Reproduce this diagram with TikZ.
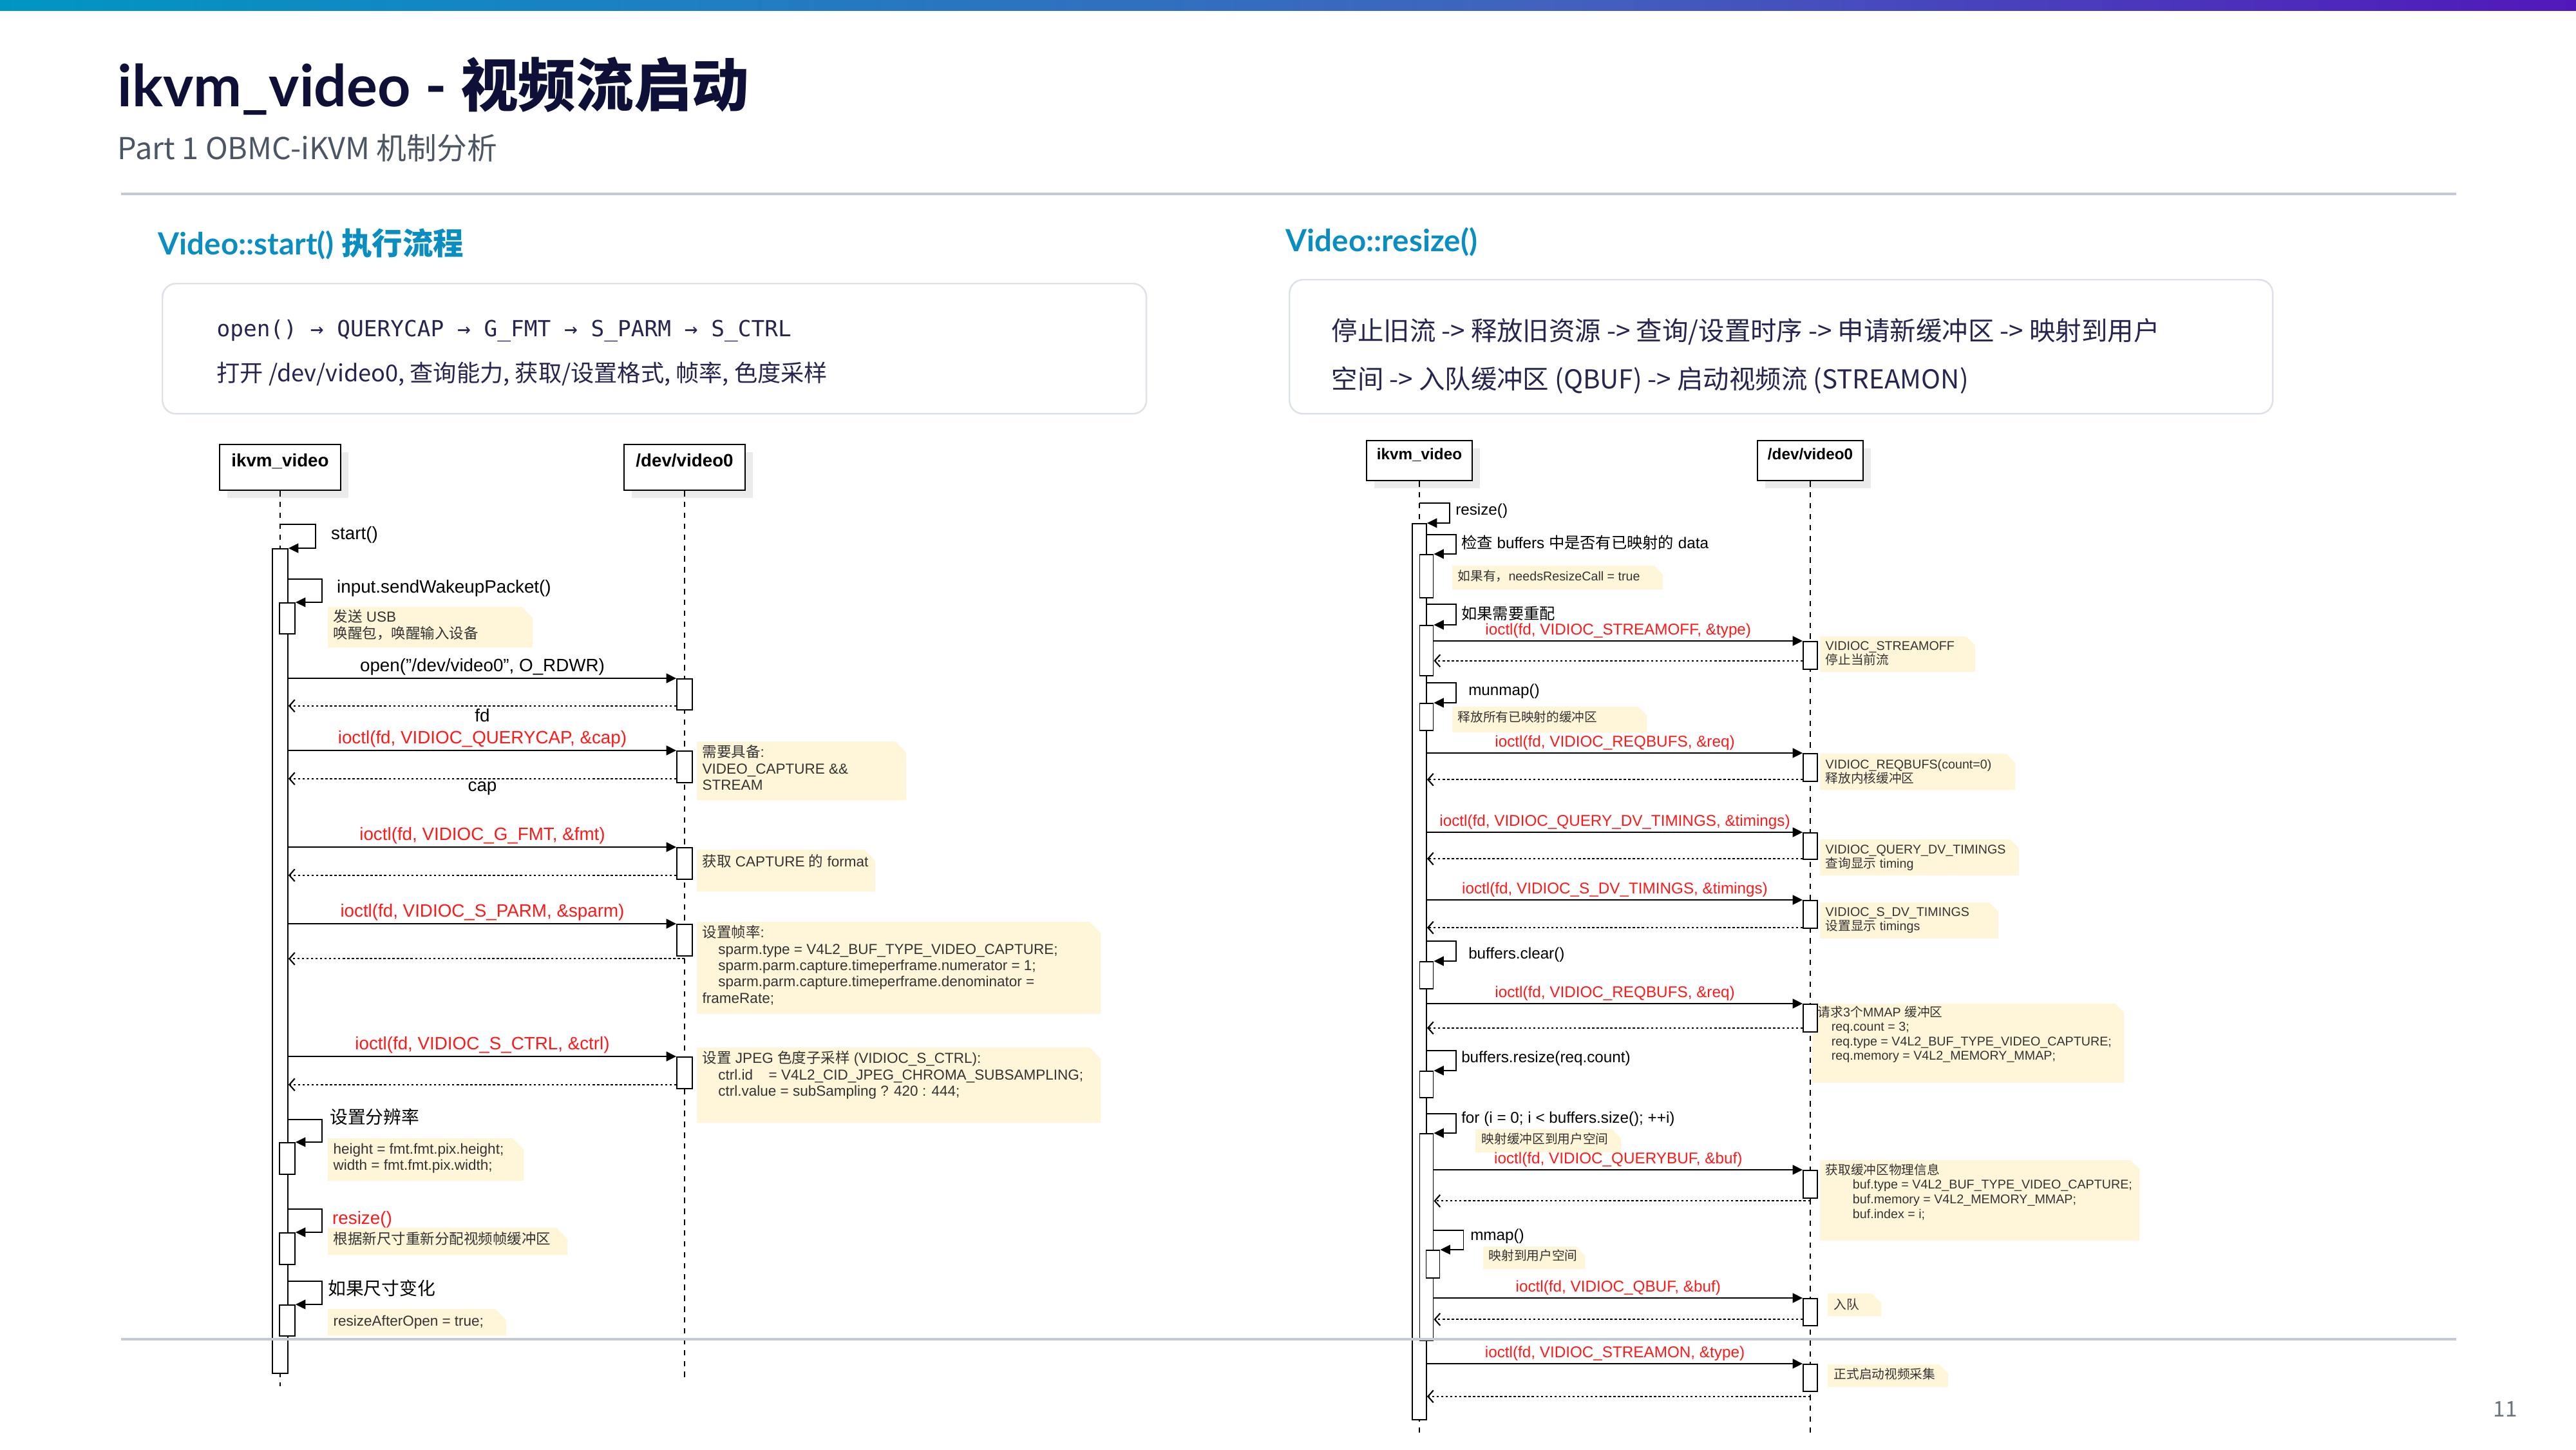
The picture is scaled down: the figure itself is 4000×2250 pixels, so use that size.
\documentclass[tikz,border=0pt]{standalone}
\usepackage{fontspec}
\setmainfont{Liberation Sans}
\newfontfamily\cjk{Noto Sans CJK SC}
\newfontfamily\uifont{Lato}
\newfontfamily\codefont{DejaVu Sans Mono}
\usetikzlibrary{arrows.meta,shadows}

\definecolor{barA}{HTML}{0096C3}
\definecolor{barB}{HTML}{4262BE}
\definecolor{barC}{HTML}{5117BA}
\definecolor{titlec}{HTML}{0F1038}
\definecolor{subc}{HTML}{4B5563}
\definecolor{headc}{HTML}{0A8EC2}
\definecolor{boxtxt}{HTML}{25254F}
\definecolor{boxline}{HTML}{DDE1E8}
\definecolor{rulec}{HTML}{C3CAD6}
\definecolor{redtxt}{HTML}{FF1A1A}
\definecolor{notefill}{HTML}{FFF5D9}
\definecolor{notetxt}{HTML}{333333}
\definecolor{pagec}{HTML}{6B7280}

\pgfdeclarehorizontalshading{topbar}{100bp}{color(0bp)=(barA); color(25bp)=(barA); color(55bp)=(barB); color(75bp)=(barC); color(100bp)=(barC)}

% Chinese characters are switched to \cjk on the fly
\XeTeXinterchartokenstate=1
\newXeTeXintercharclass\cjkclass
\newcount\cjkc
\def\charrange#1#2#3{\cjkc=#1 \loop\XeTeXcharclass\cjkc=#3 \ifnum\cjkc<#2 \advance\cjkc by 1 \repeat}
\charrange{"0020}{"007E}{0}
\charrange{"3000}{"303F}{\cjkclass}
\charrange{"4E00}{"9FFF}{\cjkclass}
\charrange{"FF00}{"FFEF}{\cjkclass}
\XeTeXinterchartoks 0 \cjkclass = {\begingroup\cjk}
\XeTeXinterchartoks 4095 \cjkclass = {\begingroup\cjk}
\XeTeXinterchartoks \cjkclass 0 = {\endgroup}
\XeTeXinterchartoks \cjkclass 4095 = {\endgroup}

\begin{document}
\begin{tikzpicture}[x=0.01cm, y=-0.01cm,
  head/.style={draw, line width=0.6pt, fill=white, inner sep=0, anchor=north,
    drop shadow={shadow xshift=3.4pt, shadow yshift=-3.4pt, fill=black!8, opacity=1}},
  headL/.style={head, minimum width=1.88cm, minimum height=0.71cm},
  headR/.style={head, minimum width=1.64cm, minimum height=0.62cm},
  headtxtL/.style={anchor=north, inner sep=4.3pt, font=\fontsize{7.9}{9}\selectfont\bfseries},
  headtxtR/.style={anchor=north, inner sep=3.5pt, font=\fontsize{6.9}{8}\selectfont\bfseries},
  life/.style={line width=0.4pt, dash pattern=on 2.4pt off 2.4pt},
  bar/.style={draw, fill=white, line width=0.5pt, inner sep=0, anchor=north},
  call/.style={-{Triangle[length=4.4pt,width=4.2pt]}, line width=0.7pt},
  ret/.style={-{Straight Barb[length=2.4pt,width=5.4pt]}, line width=0.6pt, dash pattern=on 1pt off 1pt},
  selfcall/.style={-{Triangle[length=4.4pt,width=4.2pt]}, line width=0.5pt},
  lblL/.style={font=\fontsize{7.9}{9}\selectfont, inner sep=1pt},
  lblR/.style={font=\fontsize{6.9}{8}\selectfont, inner sep=1pt},
  notebg/.style={fill=notefill},
  noteL/.style={anchor=north west, align=left, inner sep=0, text=notetxt, font=\fontsize{6.4}{7.2}\selectfont},
  noteR/.style={anchor=north west, align=left, inner sep=0, text=notetxt, font=\fontsize{5.6}{6.4}\selectfont},
  infobox/.style={draw=boxline, line width=0.7pt, rounded corners=6pt, fill=white, anchor=north west, inner sep=0},
  hrule/.style={draw=rulec, line width=0.9pt}
]
\fill[white] (0,0) rectangle (4000,2250);
\useasboundingbox (0,0) rectangle (4000,2250);

% Title
\shade[shading=topbar] (0,0) rectangle (4000,16);
\node[anchor=base west, inner sep=0, text=titlec, font=\uifont\bfseries\fontsize{25.5}{30}\selectfont] (title) at (182,165) {ikvm\_video - 视频流启动};
\node[anchor=base west, inner sep=0, text=subc, font=\cjk\fontsize{13.3}{15}\selectfont] (subtitle) at (182,247) {Part 1 OBMC-iKVM 机制分析};
\draw[hrule] (188,301) -- (3814,301);

% Section headings and summaries
\node[anchor=base west, inner sep=0, text=headc, font=\uifont\bfseries\fontsize{13.5}{16}\selectfont] (secL) at (245,395) {Video::start() 执行流程};
\node[anchor=base west, inner sep=0, text=headc, font=\uifont\bfseries\fontsize{13.5}{16}\selectfont] (secR) at (1996,390) {Video::resize()};
\node[infobox, minimum width=15.27cm, minimum height=2.02cm] (boxL) at (251,439) {};
\node[infobox, minimum width=15.26cm, minimum height=2.08cm] (boxR) at (2001,433) {};
\node[anchor=base west, inner sep=0, text=boxtxt, font=\codefont\fontsize{9.8}{12}\selectfont] (codeL) at (336,522) {open() → QUERYCAP → G\_FMT → S\_PARM → S\_CTRL};
\node[anchor=base west, inner sep=0, text=boxtxt, font=\cjk\fontsize{10.3}{12}\selectfont] (descL) at (336,592) {打开 /dev/video0, 查询能力, 获取/设置格式, 帧率, 色度采样};
\node[anchor=base west, inner sep=0, text=boxtxt, font=\cjk\fontsize{11.5}{14}\selectfont] (descR1) at (2067,528) {停止旧流 -> 释放旧资源 -> 查询/设置时序 -> 申请新缓冲区 -> 映射到用户};
\node[anchor=base west, inner sep=0, text=boxtxt, font=\cjk\fontsize{11.5}{14}\selectfont] (descR2) at (2067,603) {空间 -> 入队缓冲区 (QBUF) -> 启动视频流 (STREAMON)};

% Participants
\node[headL, label={[headtxtL]north:ikvm\_video}] (hL1) at (435,689) {};
\node[headL, label={[headtxtL]north:/dev/video0}] (hL2) at (1063,689) {};
\node[headR, label={[headtxtR]north:ikvm\_video}] (hR1) at (2204,683) {};
\node[headR, label={[headtxtR]north:/dev/video0}] (hR2) at (2811,683) {};
\coordinate (eL1) at (435,2152);
\coordinate (eL2) at (1063,2140);
\coordinate (eR1) at (2204,2226);
\coordinate (eR2) at (2811,2226);
\draw[life] (hL1.south) -- (eL1);
\draw[life] (hL2.south) -- (eL2);
\draw[life] (hR1.south) -- (eR1);
\draw[life] (hR2.south) -- (eR2);

% Notes
\foreach \xa/\ya/\xb/\yb in {509/942/827/1005, 1082/1151/1407/1242, 1082/1319/1359/1384, 1082/1431/1709/1574,
    1082/1626/1709/1743, 509/1767/813/1833, 509/1906/881/1948, 509/2032/786/2073}
  \fill[notebg] (\xa,\ya) -- (\xb-17,\ya) -- (\xb,\ya+17) -- (\xb,\yb) -- (\xa,\yb) -- cycle;
\foreach \xa/\ya/\xb/\yb in {2255/878/2582/915, 2826/988/3067/1043, 2255/1097/2557/1137, 2826/1170/3129/1226,
    2826/1303/3135/1359, 2826/1401/3103/1457, 2814/1558/3298/1681, 2291/1753/2517/1789,
    2826/1801/3322/1926, 2303/1935/2461/1970, 2838/2008/2921/2043, 2838/2118/3025/2153}
  \fill[notebg] (\xa,\ya) -- (\xb-14,\ya) -- (\xb,\ya+14) -- (\xb,\yb) -- (\xa,\yb) -- cycle;

% Activations, Video::start()
\node[bar, minimum width=0.24cm, minimum height=12.79cm] (aL) at (435,851) {};
\node[bar, minimum width=0.24cm, minimum height=0.48cm] (nL1) at (446,935) {};
\node[bar, minimum width=0.24cm, minimum height=0.49cm] (nL2) at (446,1773) {};
\node[bar, minimum width=0.24cm, minimum height=0.49cm] (nL3) at (446,1913) {};
\node[bar, minimum width=0.24cm, minimum height=0.48cm] (nL4) at (446,2025) {};
\node[bar, minimum width=0.24cm, minimum height=0.48cm] (dL1) at (1063,1053) {};
\node[bar, minimum width=0.24cm, minimum height=0.49cm] (dL2) at (1063,1165) {};
\node[bar, minimum width=0.24cm, minimum height=0.49cm] (dL3) at (1063,1315) {};
\node[bar, minimum width=0.24cm, minimum height=0.49cm] (dL4) at (1063,1434) {};
\node[bar, minimum width=0.24cm, minimum height=0.49cm] (dL5) at (1063,1640) {};

% Activations, Video::resize()
\node[bar, minimum width=0.22cm, minimum height=13.90cm] (aR) at (2204,812) {};
\node[bar, minimum width=0.21cm, minimum height=0.67cm] (nR1) at (2215,860) {};
\node[bar, minimum width=0.21cm, minimum height=0.78cm] (nR2) at (2215,970) {};
\node[bar, minimum width=0.21cm, minimum height=0.42cm] (nR3) at (2215,1091) {};
\node[bar, minimum width=0.21cm, minimum height=0.42cm] (nR4) at (2215,1492) {};
\node[bar, minimum width=0.21cm, minimum height=0.41cm] (nR5) at (2215,1662) {};
\node[bar, minimum width=0.21cm, minimum height=3.21cm] (nR6) at (2215,1759) {};
\node[bar, minimum width=0.21cm, minimum height=0.43cm] (nR7) at (2225,1940) {};
\node[bar, minimum width=0.22cm, minimum height=0.43cm] (dR1) at (2811,995) {};
\node[bar, minimum width=0.22cm, minimum height=0.43cm] (dR2) at (2811,1169) {};
\node[bar, minimum width=0.22cm, minimum height=0.41cm] (dR3) at (2811,1292) {};
\node[bar, minimum width=0.22cm, minimum height=0.43cm] (dR4) at (2811,1397) {};
\node[bar, minimum width=0.22cm, minimum height=0.43cm] (dR5) at (2811,1558) {};
\node[bar, minimum width=0.22cm, minimum height=0.43cm] (dR6) at (2811,1816) {};
\node[bar, minimum width=0.22cm, minimum height=0.42cm] (dR7) at (2811,2015) {};
\node[bar, minimum width=0.22cm, minimum height=0.42cm] (dR8) at (2811,2117) {};

% Self calls, Video::start()
\draw[selfcall] (hL1.south |- aL.north) ++(0,-37) -- ++(55,0) |- (aL.north east);
\draw[selfcall] (aL.east |- nL1.north) ++(0,-36) -- ++(52,0) |- (nL1.north east);
\draw[selfcall] (aL.east |- nL2.north) ++(0,-35) -- ++(52,0) |- (nL2.north east);
\draw[selfcall] (aL.east |- nL3.north) ++(0,-36) -- ++(52,0) |- (nL3.north east);
\draw[selfcall] (aL.east |- nL4.north) ++(0,-36) -- ++(52,0) |- (nL4.north east);
\node[lblL, anchor=west] (sStart) at (510,830) {start()};
\node[lblL, anchor=west] (sWake) at (519,913) {input.sendWakeupPacket()};
\node[lblL, anchor=west] (sRes) at (508,1734) {设置分辨率};
\node[lblL, anchor=west, text=redtxt] (sResizeL) at (512,1893) {resize()};
\node[lblL, anchor=west] (sChange) at (505,2000) {如果尺寸变化};

% Messages, Video::start()
\draw[call] (aL.east |- dL1.north) -- (dL1.north west) node[lblL, midway, above] (mOpen) {open("/dev/video0", O\_RDWR)};
\draw[ret] ([yshift=2pt]dL1.south west) coordinate (r1) -- (r1 -| aL.east) node[lblL, midway, below] (mFd) {fd};
\draw[call] (aL.east |- dL2.north) -- (dL2.north west) node[lblL, text=redtxt, midway, above] (mCap) {ioctl(fd, VIDIOC\_QUERYCAP, \&cap)};
\draw[ret] ([yshift=2pt]dL2.south west) coordinate (r2) -- (r2 -| aL.east) node[lblL, midway, below] (mCapR) {cap};
\draw[call] (aL.east |- dL3.north) -- (dL3.north west) node[lblL, text=redtxt, midway, above] (mFmt) {ioctl(fd, VIDIOC\_G\_FMT, \&fmt)};
\draw[ret] ([yshift=2pt]dL3.south west) coordinate (r3) -- (r3 -| aL.east);
\draw[call] (aL.east |- dL4.north) -- (dL4.north west) node[lblL, text=redtxt, midway, above] (mParm) {ioctl(fd, VIDIOC\_S\_PARM, \&sparm)};
\draw[ret] ([yshift=-1pt]dL4.south) coordinate (r4) -- (r4 -| aL.east);
\draw[call] (aL.east |- dL5.north) -- (dL5.north west) node[lblL, text=redtxt, midway, above] (mCtrl) {ioctl(fd, VIDIOC\_S\_CTRL, \&ctrl)};
\draw[ret] ([yshift=2pt]dL5.south west) coordinate (r5) -- (r5 -| aL.east);

% Self calls, Video::resize()
\draw[selfcall] (hR1.south |- aR.north) ++(0,-31) -- ++(47,0) |- (aR.north east);
\draw[selfcall] (aR.east |- nR1.north) ++(0,-30) -- ++(45,0) |- (nR1.north east);
\draw[selfcall] (aR.east |- nR2.north) ++(0,-32) -- ++(45,0) |- (nR2.north east);
\draw[selfcall] (aR.east |- nR3.north) ++(0,-31) -- ++(45,0) |- (nR3.north east);
\draw[selfcall] (aR.east |- nR4.north) ++(0,-31) -- ++(45,0) |- (nR4.north east);
\draw[selfcall] (aR.east |- nR5.north) ++(0,-31) -- ++(45,0) |- (nR5.north east);
\draw[selfcall] (aR.east |- nR6.north) ++(0,-30) -- ++(45,0) |- (nR6.north east);
\draw[selfcall] (nR6.east |- nR7.north) ++(0,-30) -- ++(46,0) |- (nR7.north east);
\node[lblR, anchor=west] (sResizeR) at (2256,793) {resize()};
\node[lblR, anchor=west] (sCheck) at (2265,842) {检查 buffers 中是否有已映射的 data};
\node[lblR, anchor=west] (sRealloc) at (2265,952) {如果需要重配};
\node[lblR, anchor=west] (sMunmap) at (2276,1073) {munmap()};
\node[lblR, anchor=west] (sClear) at (2276,1482) {buffers.clear()};
\node[lblR, anchor=west] (sBufResize) at (2265,1643) {buffers.resize(req.count)};
\node[lblR, anchor=west] (sFor) at (2265,1737) {for (i = 0; i < buffers.size(); ++i)};
\node[lblR, anchor=west] (sMmap) at (2279,1919) {mmap()};

% Messages, Video::resize()
\draw[call] (nR2.east |- dR1.north) -- (dR1.north west) node[lblR, text=redtxt, midway, above] (mOff) {ioctl(fd, VIDIOC\_STREAMOFF, \&type)};
\draw[ret] ([yshift=4pt]dR1.south west) coordinate (q1) -- (q1 -| nR2.east);
\draw[call] (aR.east |- dR2.north) -- (dR2.north west) node[lblR, text=redtxt, midway, above] (mReq) {ioctl(fd, VIDIOC\_REQBUFS, \&req)};
\draw[ret] ([yshift=1pt]dR2.south west) coordinate (q2) -- (q2 -| aR.east);
\draw[call] (aR.east |- dR3.north) -- (dR3.north west) node[lblR, text=redtxt, midway, above] (mQuery) {ioctl(fd, VIDIOC\_QUERY\_DV\_TIMINGS, \&timings)};
\draw[ret] ([yshift=0.5pt]dR3.south west) coordinate (q3) -- (q3 -| aR.east);
\draw[call] (aR.east |- dR4.north) -- (dR4.north west) node[lblR, text=redtxt, midway, above] (mSet) {ioctl(fd, VIDIOC\_S\_DV\_TIMINGS, \&timings)};
\draw[ret] ([yshift=0.5pt]dR4.south west) coordinate (q4) -- (q4 -| aR.east);
\draw[call] (aR.east |- dR5.north) -- (dR5.north west) node[lblR, text=redtxt, midway, above] (mReq2) {ioctl(fd, VIDIOC\_REQBUFS, \&req)};
\draw[ret] ([yshift=2pt]dR5.south west) coordinate (q5) -- (q5 -| aR.east);
\draw[call] (nR6.east |- dR6.north) -- (dR6.north west) node[lblR, text=redtxt, midway, above] (mQbuf) {ioctl(fd, VIDIOC\_QUERYBUF, \&buf)};
\draw[ret] ([yshift=-1pt]dR6.south) coordinate (q6) -- (q6 -| nR6.east);
\draw[call] (nR6.east |- dR7.north) -- (dR7.north west) node[lblR, text=redtxt, midway, above] (mQ) {ioctl(fd, VIDIOC\_QBUF, \&buf)};
\draw[ret] ([yshift=3pt]dR7.south west) coordinate (q7) -- (q7 -| nR6.east);
\draw[call] (aR.east |- dR8.north) -- (dR8.north west) node[lblR, text=redtxt, midway, above] (mOn) {ioctl(fd, VIDIOC\_STREAMON, \&type)};
\draw[ret] ([yshift=-2pt]dR8.south) coordinate (q8) -- (q8 -| aR.east);

% Note texts
\node[noteL] (nt1) at (517,946) {发送 USB\\唤醒包，唤醒输入设备};
\node[noteL] (nt2) at (1090,1156) {需要具备:\\VIDEO\_CAPTURE \&\&\\STREAM};
\node[noteL] (nt3) at (1090,1326) {获取 CAPTURE 的 format};
\node[noteL] (nt4) at (1090,1436) {设置帧率:\\\hspace*{7pt}sparm.type = V4L2\_BUF\_TYPE\_VIDEO\_CAPTURE;\\\hspace*{7pt}sparm.parm.capture.timeperframe.numerator = 1;\\\hspace*{7pt}sparm.parm.capture.timeperframe.denominator =\\frameRate;};
\node[noteL] (nt5) at (1090,1631) {设置 JPEG 色度子采样 (VIDIOC\_S\_CTRL):\\\hspace*{7pt}ctrl.id\hspace*{7pt}= V4L2\_CID\_JPEG\_CHROMA\_SUBSAMPLING;\\\hspace*{7pt}ctrl.value = subSampling ? 420 : 444;};
\node[noteL] (nt6) at (517,1774) {height = fmt.fmt.pix.height;\\width = fmt.fmt.pix.width;};
\node[noteL] (nt7) at (517,1912) {根据新尺寸重新分配视频帧缓冲区};
\node[noteL] (nt8) at (517,2041) {resizeAfterOpen = true;};
\node[noteR] (rt1) at (2263,884) {如果有，needsResizeCall = true};
\node[noteR] (rt2) at (2834,995) {VIDIOC\_STREAMOFF\\停止当前流};
\node[noteR] (rt3) at (2263,1103) {释放所有已映射的缓冲区};
\node[noteR] (rt4) at (2834,1178) {VIDIOC\_REQBUFS(count=0)\\释放内核缓冲区};
\node[noteR] (rt5) at (2834,1311) {VIDIOC\_QUERY\_DV\_TIMINGS\\查询显示 timing};
\node[noteR] (rt6) at (2834,1408) {VIDIOC\_S\_DV\_TIMINGS\\设置显示 timings};
\node[noteR] (rt7) at (2822,1561) {请求3个MMAP 缓冲区\\\hspace*{6pt}req.count = 3;\\\hspace*{6pt}req.type = V4L2\_BUF\_TYPE\_VIDEO\_CAPTURE;\\\hspace*{6pt}req.memory = V4L2\_MEMORY\_MMAP;};
\node[noteR] (rt8) at (2300,1758) {映射缓冲区到用户空间};
\node[noteR] (rt9) at (2834,1806) {获取缓冲区物理信息\\\hspace*{12pt}buf.type = V4L2\_BUF\_TYPE\_VIDEO\_CAPTURE;\\\hspace*{12pt}buf.memory = V4L2\_MEMORY\_MMAP;\\\hspace*{12pt}buf.index = i;};
\node[noteR] (rt10) at (2311,1939) {映射到用户空间};
\node[noteR] (rt11) at (2847,2015) {入队};
\node[noteR] (rt12) at (2847,2123) {正式启动视频采集};

% Footer
\draw[hrule] (188,2079) -- (3814,2079);
\node[inner sep=0, text=pagec, font=\cjk\fontsize{9.5}{11}\selectfont] (pnum) at (3890,2188) {11};
\end{tikzpicture}
\end{document}
